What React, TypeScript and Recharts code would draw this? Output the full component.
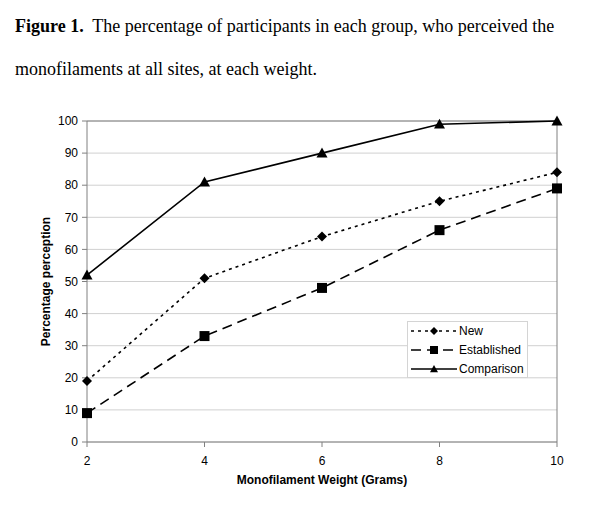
import { LineChart, Line, XAxis, YAxis, CartesianGrid, ReferenceLine } from 'recharts'

const weights = [2, 4, 6, 8, 10]
const newGroup = [19, 51, 64, 75, 84]
const established = [9, 33, 48, 66, 79]
const comparison = [52, 81, 90, 99, 100]
const yTicks = [0, 10, 20, 30, 40, 50, 60, 70, 80, 90, 100]

const data = weights.map((w, i) => ({
  weight: w,
  newG: newGroup[i],
  est: established[i],
  comp: comparison[i],
}))

const FONT = '"Liberation Sans", Arial, sans-serif'

const Diamond = ({ cx, cy, s = 5 }: any) => (
  <path d={`M${cx},${cy - s}L${cx + s},${cy}L${cx},${cy + s}L${cx - s},${cy}Z`} fill="#000" />
)
const Square = ({ cx, cy, s = 5 }: any) => (
  <rect x={cx - s} y={cy - s} width={s * 2} height={s * 2} fill="#000" />
)
const Triangle = ({ cx, cy, s = 5.5 }: any) => (
  <path d={`M${cx},${cy - s}L${cx + s},${cy + s * 0.8}L${cx - s},${cy + s * 0.8}Z`} fill="#000" />
)

const series = [
  { key: 'newG', name: 'New', dash: '3 4', Mark: Diamond },
  { key: 'est', name: 'Established', dash: '10 6', Mark: Square },
  { key: 'comp', name: 'Comparison', dash: undefined, Mark: Triangle },
]

const LegendBox = () => (
  <svg width={121} height={57} style={{ display: 'block' }}>
    <rect x={0.5} y={0.5} width={120} height={56} fill="#fff" stroke="#d4d4d4" />
    {series.map((s, i) => {
      const y = 10 + i * 19
      return (
        <g key={s.key}>
          <line x1={4} x2={50} y1={y} y2={y} stroke="#000" strokeWidth={1.5} strokeDasharray={s.dash} />
          <s.Mark cx={27} cy={y} s={4} />
          <text x={52} y={y + 4} fontSize={12} fontFamily={FONT} fill="#000">{s.name}</text>
        </g>
      )
    })}
  </svg>
)

export default function App() {
  return (
    <div style={{ position: 'relative', width: 600, height: 506, margin: -8, background: '#fff' }}>
      <div style={{ position: 'absolute', left: 15, top: 5, fontFamily: '"Liberation Serif", "Times New Roman", serif', fontSize: 18, lineHeight: '43px', color: '#000', whiteSpace: 'nowrap' }}>
        <div><b>Figure 1.</b>&nbsp; The percentage of participants in each group, who perceived the</div>
        <div>monofilaments at all sites, at each weight.</div>
      </div>
      <div style={{ position: 'absolute', left: 0, top: 0 }}>
        <LineChart width={600} height={506} data={data} margin={{ top: 121, right: 43, bottom: 34, left: 47 }}>
          <CartesianGrid horizontal vertical={false} stroke="#d0d0d0" />
          <XAxis
            dataKey="weight" type="number" domain={[2, 10]} ticks={weights}
            stroke="#808080" tickSize={5} tickMargin={9} height={30}
            tick={{ fontSize: 12, fill: '#000', fontFamily: FONT }}
            label={{ value: 'Monofilament Weight (Grams)', position: 'insideBottom', offset: -12, style: { fontSize: 12, fontWeight: 'bold', fill: '#000', fontFamily: FONT } }}
          />
          <YAxis
            type="number" domain={[0, 100]} ticks={yTicks} width={40}
            stroke="#808080" tickSize={5} tickMargin={4}
            tick={{ fontSize: 12, fill: '#000', fontFamily: FONT }}
            label={{ value: 'Percentage perception', angle: -90, position: 'insideLeft', offset: -1, style: { fontSize: 12, fontWeight: 'bold', fill: '#000', fontFamily: FONT, textAnchor: 'middle' } }}
          />
          <ReferenceLine y={100} stroke="#808080" />
          <ReferenceLine x={10} stroke="#808080" />
          {series.map(s => (
            <Line
              key={s.key} dataKey={s.key} name={s.name} stroke="#000" strokeWidth={1.6}
              strokeDasharray={s.dash} isAnimationActive={false}
              dot={(p: any) => <s.Mark key={`${s.key}-${p.index}`} cx={p.cx} cy={p.cy} />}
              activeDot={false}
            />
          ))}
        </LineChart>
      </div>
      <div style={{ position: 'absolute', left: 407, top: 321 }}>
        <LegendBox />
      </div>
    </div>
  )
}
